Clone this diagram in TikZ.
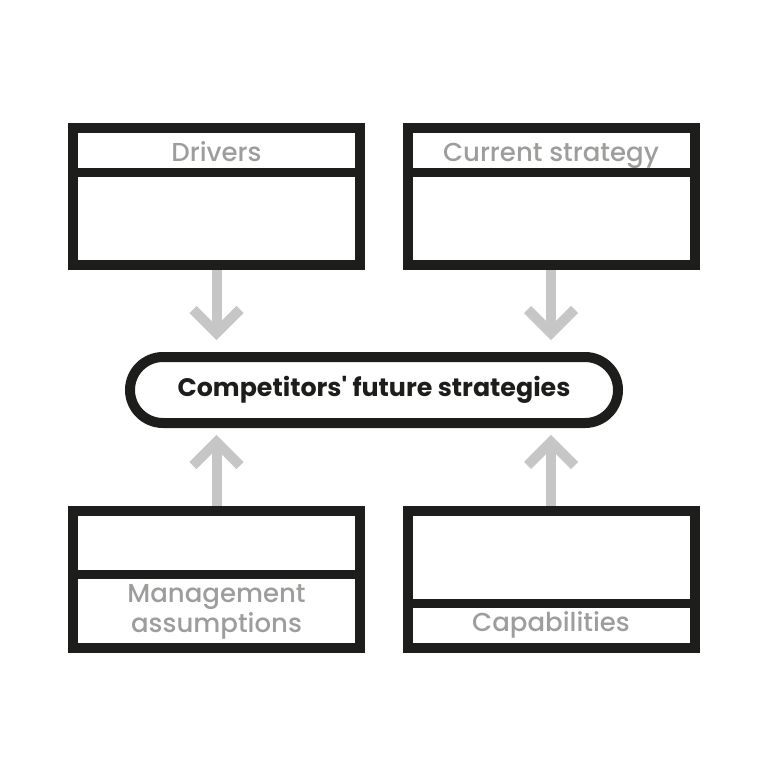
\documentclass[tikz,border=0pt]{standalone}
\usepackage{fontspec}
\setmainfont{Poppins}[UprightFont=* Medium, BoldFont=* Bold, Ligatures=TeXOff]
\definecolor{ink}{HTML}{1D1D1B}
\definecolor{labelgray}{HTML}{9D9D9C}
\definecolor{arrowgray}{HTML}{C6C6C6}
\begin{document}
\begin{tikzpicture}[x=1pt,y=-1pt,
  box/.style={draw=ink, line width=10pt, minimum width=287pt, minimum height=137pt, inner sep=0pt},
  divider/.style={draw=ink, line width=9pt},
  lbl/.style={text=labelgray, font=\fontsize{26}{30}\selectfont, align=center, inner sep=0pt, anchor=base},
  pill/.style={draw=ink, line width=10pt, rounded corners=33pt, minimum width=488pt, minimum height=66pt, inner sep=0pt, font=\bfseries\fontsize{25.3}{30}\selectfont, text=ink},
  garrow/.style={draw=arrowgray, line width=10pt, miter limit=10},
]
\useasboundingbox (0,0) rectangle (768,768);
% arrows
\coordinate (t1) at (216.5,333);
\coordinate (t2) at (551,333);
\coordinate (t3) at (216.5,442);
\coordinate (t4) at (551,442);
% boxes
\node[box] (dr) at (216.5,196.5) {};
\node[box] (cs) at (551,196.5) {};
\node[box] (ma) at (216.5,579) {};
\node[box] (ca) at (551,579) {};
\node[pill] (cf) at (374,390) {Competitors' future strategies};
\path[garrow] (dr.south) -- (t1);
\path[garrow] (193,309.5) -- (t1) -- (240,309.5);
\path[garrow] (cs.south) -- (t2);
\path[garrow] (527.5,309.5) -- (t2) -- (574.5,309.5);
\path[garrow] (ma.north) -- (t3);
\path[garrow] (193,465.5) -- (t3) -- (240,465.5);
\path[garrow] (ca.north) -- (t4);
\path[garrow] (527.5,465.5) -- (t4) -- (574.5,465.5);
% dividers
\path[divider] (dr.west |- 0,172.5) -- (dr.east |- 0,172.5);
\path[divider] (cs.west |- 0,172.5) -- (cs.east |- 0,172.5);
\path[divider] (ma.west |- 0,574) -- (ma.east |- 0,574);
\path[divider] (ca.west |- 0,603) -- (ca.east |- 0,603);
% labels
\node[lbl] (l1) at (216.5,161) {Drivers};
\node[lbl] (l2) at (551,161) {Current strategy};
\node[lbl] (l3) at (216.5,632) {Management\\assumptions};
\node[lbl] (l4) at (551,631) {Capabilities};
\end{tikzpicture}
\end{document}
